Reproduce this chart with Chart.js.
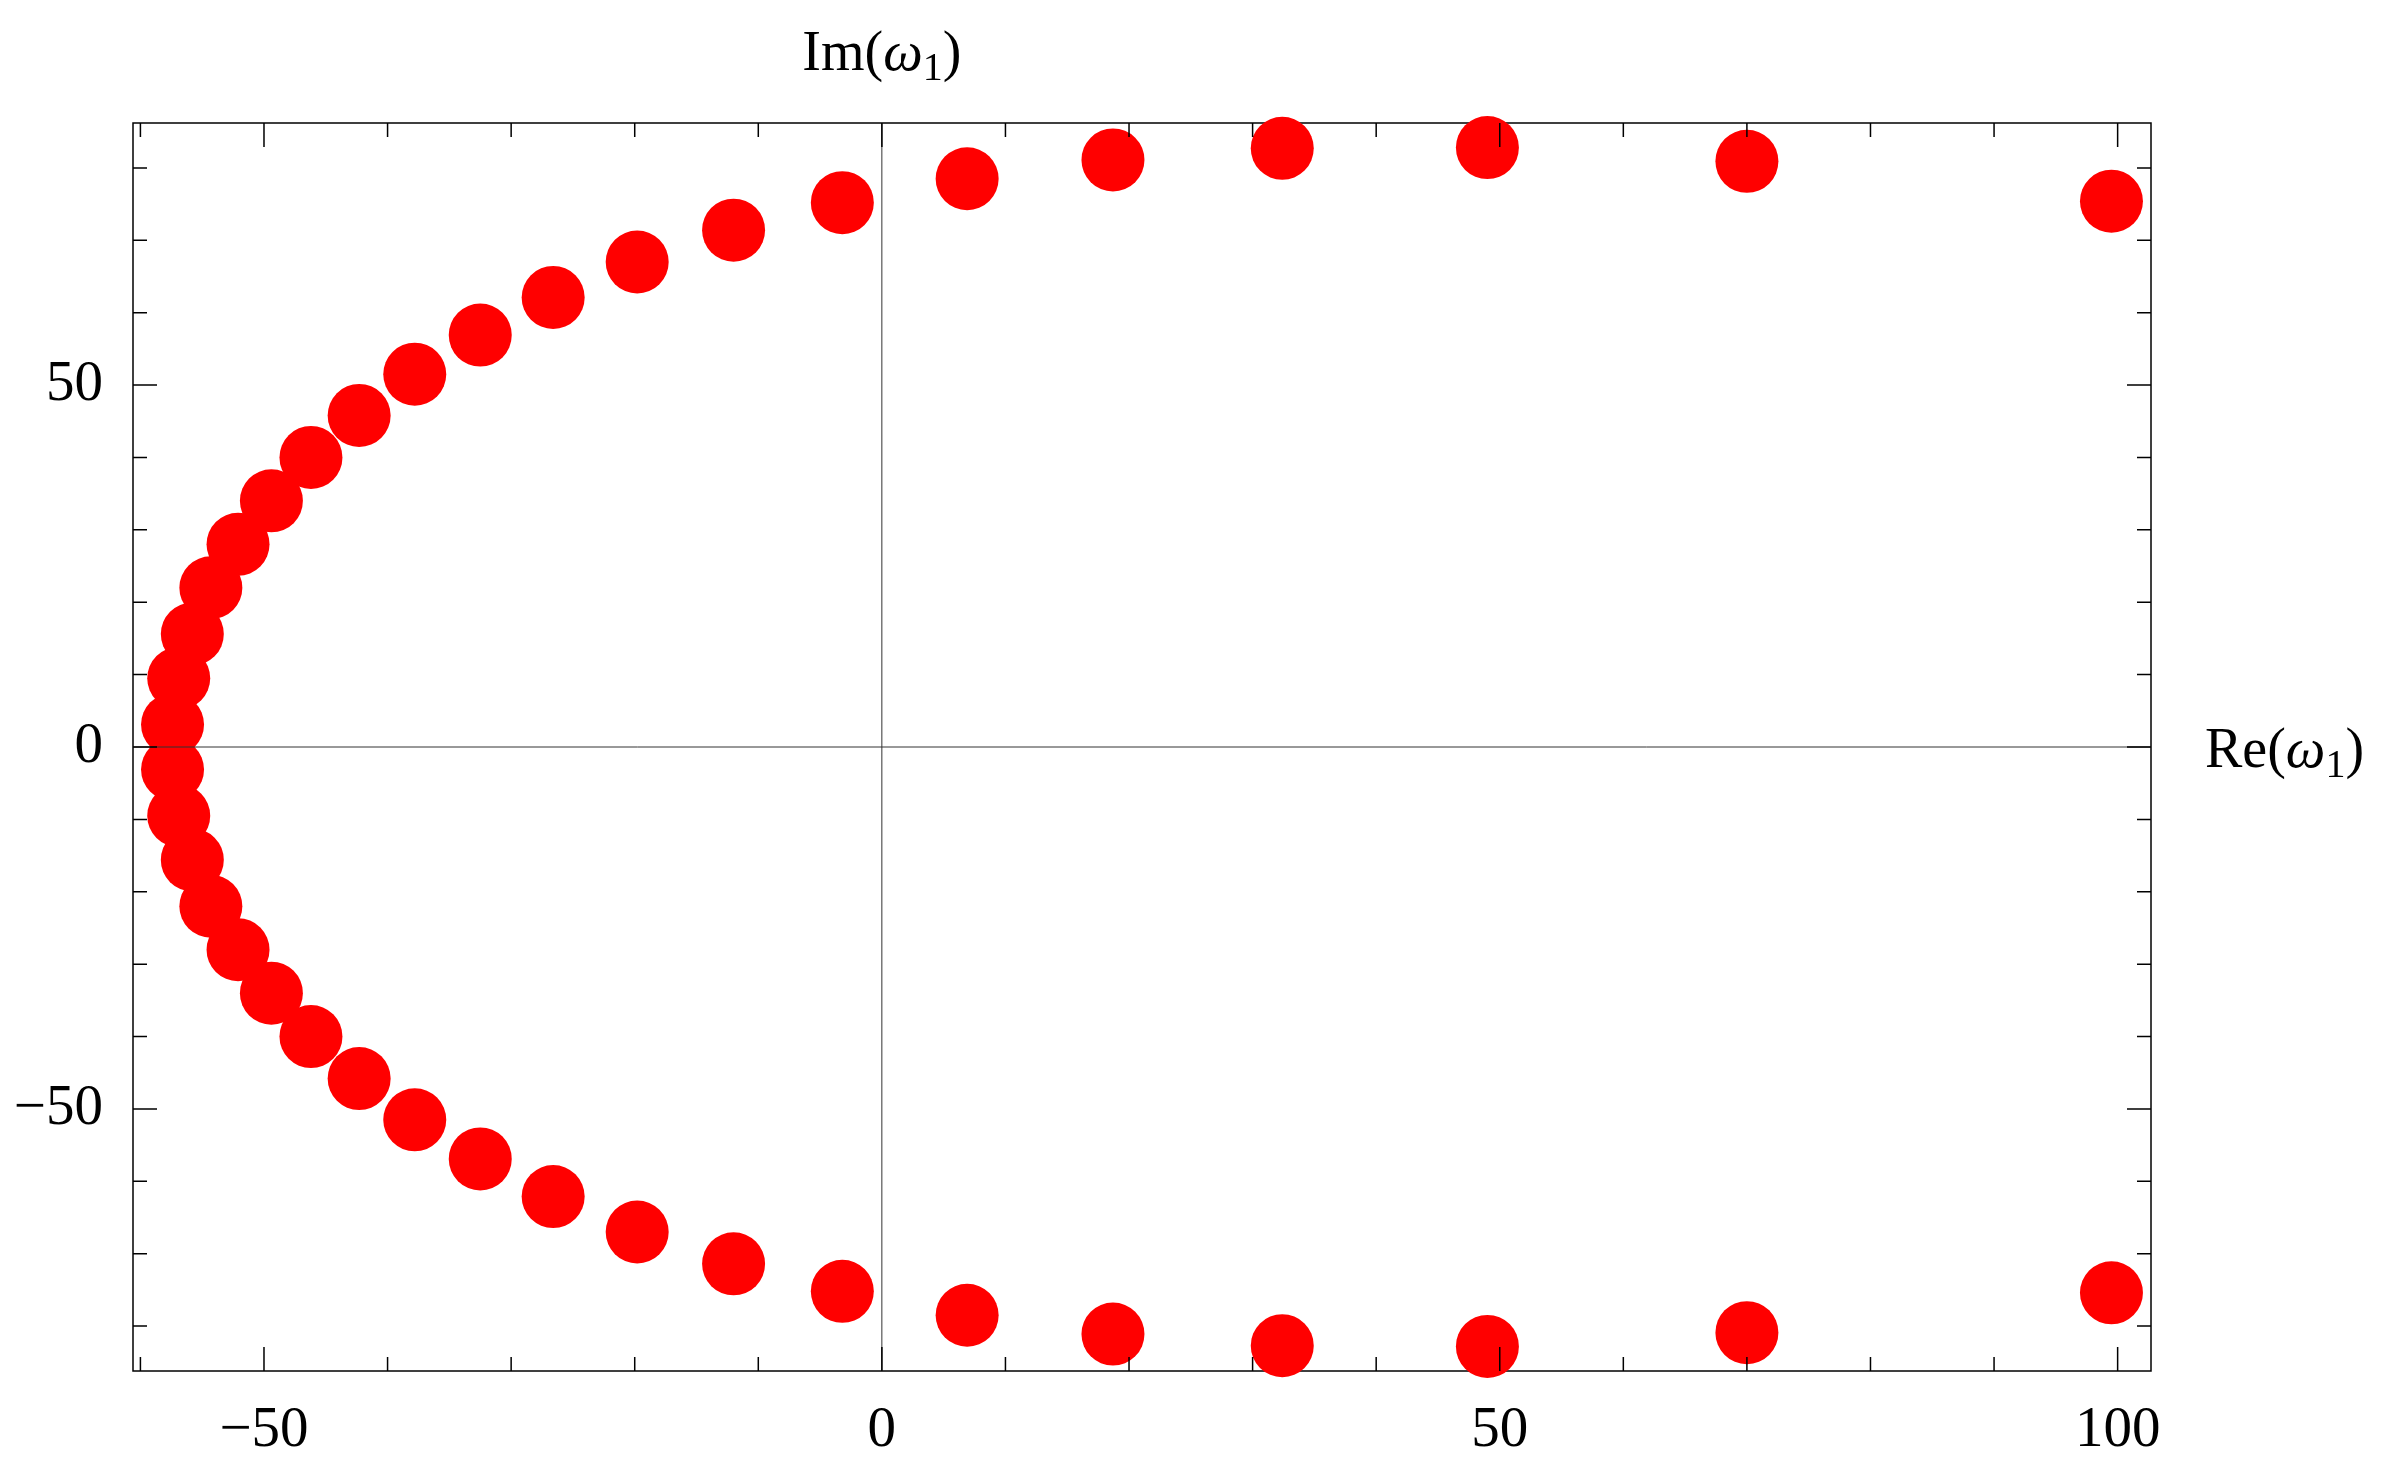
<!DOCTYPE html>
<html>
<head>
<meta charset="utf-8">
<script src="https://cdn.jsdelivr.net/npm/chart.js@4/dist/chart.umd.min.js"></script>
<style>
  body { margin: 0; background: #fff; }
  canvas { display: block; }
</style>
</head>
<body>
<canvas id="myChart" width="2386" height="1466"></canvas>
<script>
'use strict';

// upper branch, Re and Im of omega_1
var upperRe = [99.5, 70.0, 49.0, 32.4, 18.7, 6.9, -3.2, -12.0, -19.8, -26.6, -32.5, -37.8, -42.3, -46.2, -49.4, -52.1, -54.3, -55.8, -56.9, -57.4];
var upperIm = [75.4, 80.9, 82.8, 82.7, 81.1, 78.5, 75.2, 71.4, 67.0, 62.1, 56.9, 51.5, 45.8, 40.0, 34.0, 28.0, 22.0, 15.6, 9.5, 3.1];

// lower branch
var lowerRe = [-57.4, -56.9, -55.8, -54.3, -52.1, -49.4, -46.2, -42.3, -37.8, -32.5, -26.6, -19.8, -12.0, -3.2, 6.9, 18.7, 32.4, 49.0, 70.0, 99.5];
var lowerIm = [-3.1, -9.5, -15.6, -22.0, -28.0, -34.0, -40.0, -45.8, -51.5, -56.9, -62.1, -67.0, -71.4, -75.2, -78.5, -81.1, -82.7, -82.8, -80.9, -75.4];

// ticks
var xTickLabels = [-50, 0, 50, 100];
var xMinorTicks = [-60, -40, -30, -20, -10, 10, 20, 30, 40, 60, 70, 80, 90];
var yTickLabels = [-50, 0, 50];
var yMinorTicks = [-80, -70, -60, -40, -30, -20, -10, 10, 20, 30, 40, 60, 70, 80];

var serif = "'Liberation Serif', 'Times New Roman', serif";

function toPoints(re, im) {
    return re.map(function (v, i) { return { x: v, y: im[i] }; });
}

function fmt(v) {
    return v < 0 ? '\u2212' + Math.abs(v) : String(v);
}

// draws text like Im(ω1) with italic omega and subscript 1
function drawLabel(c, head, x, y, align) {
    var parts = [
        { t: head + '(', f: '56px ' + serif, dy: 0 },
        { t: '\u03C9', f: 'italic 56px ' + serif, dy: 0 },
        { t: '1', f: '40px ' + serif, dy: 10 },
        { t: ')', f: '56px ' + serif, dy: 0 }
    ];
    var w = 0;
    parts.forEach(function (p) { c.font = p.f; p.w = c.measureText(p.t).width; w += p.w; });
    var cx = align === 'center' ? x - w / 2 : x;
    c.fillStyle = '#000';
    c.textBaseline = 'alphabetic';
    c.textAlign = 'left';
    parts.forEach(function (p) {
        c.font = p.f;
        c.fillText(p.t, cx, y + p.dy);
        cx += p.w;
    });
}

var framePlugin = {
    id: 'frame',
    beforeDatasetsDraw: function (chart) {
        var c = chart.ctx, a = chart.chartArea;
        c.save();
        c.strokeStyle = '#000';
        c.lineWidth = 1.5;
        c.strokeRect(a.left, a.top, a.right - a.left, a.bottom - a.top);
        c.restore();
    },
    afterDatasetsDraw: function (chart) {
        var c = chart.ctx, a = chart.chartArea;
        var xs = chart.scales.x, ys = chart.scales.y;
        c.save();
        // axes through origin
        c.strokeStyle = '#333';
        c.lineWidth = 1;
        var x0 = xs.getPixelForValue(0), y0 = ys.getPixelForValue(0);
        c.beginPath();
        c.moveTo(a.left, y0); c.lineTo(a.right, y0);
        c.moveTo(x0, a.top); c.lineTo(x0, a.bottom);
        c.stroke();

        // frame ticks, pointing inwards
        c.strokeStyle = '#000';
        c.lineWidth = 1.5;
        c.beginPath();
        function xTick(v, len) {
            var px = xs.getPixelForValue(v);
            c.moveTo(px, a.bottom); c.lineTo(px, a.bottom - len);
            c.moveTo(px, a.top); c.lineTo(px, a.top + len);
        }
        function yTick(v, len) {
            var py = ys.getPixelForValue(v);
            c.moveTo(a.left, py); c.lineTo(a.left + len, py);
            c.moveTo(a.right, py); c.lineTo(a.right - len, py);
        }
        xTickLabels.forEach(function (v) { xTick(v, 24); });
        xMinorTicks.forEach(function (v) { xTick(v, 14); });
        yTickLabels.forEach(function (v) { yTick(v, 24); });
        yMinorTicks.forEach(function (v) { yTick(v, 14); });
        c.stroke();

        drawLabel(c, 'Im', x0, a.top - 53, 'center');
        drawLabel(c, 'Re', a.right + 54, y0 + 20, 'left');
        c.restore();
    }
};

var ctx = document.getElementById("myChart").getContext('2d');
var myChart = new Chart(ctx, {
    type: 'scatter',
    data: {
        datasets: [{
            data: toPoints(upperRe, upperIm),
            backgroundColor: '#ff0000',
            borderWidth: 0,
            pointRadius: 31.5,
            clip: false
        }, {
            data: toPoints(lowerRe, lowerIm),
            backgroundColor: '#ff0000',
            borderWidth: 0,
            pointRadius: 31.5,
            clip: false
        }]
    },
    options: {
        responsive: false,
        animation: false,
        devicePixelRatio: 1,
        layout: { padding: { top: 123, right: 235, left: 0, bottom: 0 } },
        plugins: { legend: { display: false }, tooltip: { enabled: false } },
        scales: {
            x: {
                type: 'linear',
                min: -60.6,
                max: 102.7,
                grid: { display: false },
                border: { display: false },
                afterBuildTicks: function (s) { s.ticks = xTickLabels.map(function (v) { return { value: v }; }); },
                afterFit: function (s) { s.height = 95; },
                ticks: {
                    color: '#000',
                    padding: 18,
                    maxRotation: 0,
                    font: { family: serif, size: 57 },
                    callback: function (v) { return fmt(v); }
                }
            },
            y: {
                type: 'linear',
                min: -86.2,
                max: 86.2,
                grid: { display: false },
                border: { display: false },
                afterBuildTicks: function (s) { s.ticks = yTickLabels.map(function (v) { return { value: v }; }); },
                afterFit: function (s) { s.width = 133; },
                ticks: {
                    color: '#000',
                    padding: 22,
                    font: { family: serif, size: 57 },
                    callback: function (v) { return fmt(v); }
                }
            }
        }
    },
    plugins: [framePlugin]
});
</script>
</body>
</html>
